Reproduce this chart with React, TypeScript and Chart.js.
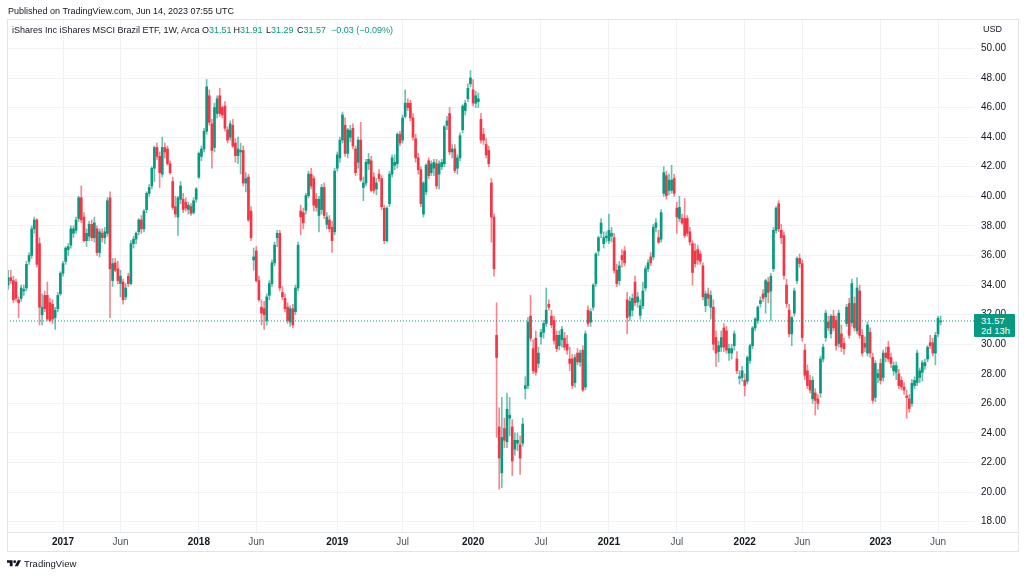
import React, { useEffect, useRef } from "react";
import { Chart, registerables } from "chart.js";

Chart.register(...registerables);

// Weekly candles [open, high, low, close]; week 0 = week of 2 Jan 2017
const FIRST_WEEK = -21;

const ohlc2016 = [
  [34.0, 35.0, 33.7, 34.5], [34.5, 35.0, 34.1, 34.3], [34.3, 34.6, 32.8, 33.0], [34.2, 34.4, 32.9, 33.1],
  [33.0, 33.2, 31.8, 32.8], [33.1, 34.0, 32.9, 33.8], [33.6, 34.0, 33.3, 33.7], [33.8, 35.6, 33.6, 35.4],
  [35.6, 36.2, 35.4, 36.0], [36.0, 38.0, 35.8, 37.8], [37.8, 38.6, 37.5, 38.4], [38.4, 38.5, 35.2, 35.4],
  [36.8, 37.2, 31.3, 32.5], [32.0, 33.4, 31.3, 32.5], [33.3, 33.6, 32.2, 32.4], [33.3, 34.2, 31.6, 31.7],
  [32.8, 33.1, 31.5, 31.6], [32.7, 33.0, 31.4, 31.7], [31.8, 32.5, 31.0, 32.3], [32.4, 33.5, 32.2, 33.3],
  [33.4, 34.9, 33.3, 34.8],
];

const ohlc2017 = [
  [34.8, 35.6, 34.6, 35.45], [35.6, 36.6, 35.4, 36.5], [36.4, 36.8, 36.0, 36.6], [36.7, 38.0, 36.5, 37.8],
  [37.5, 38.0, 37.2, 37.8], [37.7, 38.6, 37.5, 38.4], [38.5, 40.0, 38.3, 39.9], [39.9, 40.7, 38.2, 38.4],
  [38.6, 38.9, 36.9, 37.0], [37.0, 37.8, 36.6, 37.5], [37.3, 38.3, 37.0, 38.1], [38.1, 38.4, 37.0, 37.2],
  [37.2, 38.6, 36.9, 38.2], [37.8, 38.0, 36.0, 36.2], [36.2, 37.8, 35.9, 37.6], [37.5, 37.8, 36.9, 37.2],
  [37.2, 37.9, 36.8, 37.6], [37.5, 39.9, 37.3, 39.7], [39.9, 40.3, 31.8, 35.1], [34.3, 35.8, 33.9, 35.45],
  [35.5, 35.8, 34.9, 35.0], [35.1, 35.6, 34.1, 34.3], [34.1, 35.0, 33.2, 34.6], [34.2, 34.4, 32.7, 33.0],
  [33.2, 34.1, 33.0, 33.8], [34.6, 34.8, 33.9, 34.1], [34.1, 37.0, 34.0, 36.8], [36.8, 37.3, 36.5, 37.1],
  [37.1, 37.6, 36.8, 37.5], [37.6, 38.5, 37.4, 38.4], [38.4, 38.7, 37.5, 37.8], [37.8, 39.1, 37.6, 39.0],
  [39.1, 40.3, 38.9, 40.2], [40.2, 40.8, 40.0, 40.6], [40.7, 42.0, 40.5, 41.9], [41.9, 43.4, 41.0, 43.3],
  [43.3, 43.6, 42.5, 42.7], [42.7, 43.0, 40.6, 41.6], [41.5, 44.0, 41.3, 43.3], [43.3, 43.6, 42.6, 43.0],
  [43.2, 43.4, 42.1, 42.2], [42.2, 42.4, 41.5, 41.6], [41.0, 41.3, 39.1, 39.25], [39.3, 40.0, 38.6, 38.8],
  [38.6, 40.0, 37.35, 39.9], [39.8, 41.0, 39.5, 40.7], [39.8, 40.2, 38.9, 39.1], [39.6, 39.9, 39.0, 39.2],
  [39.1, 39.6, 38.8, 39.4], [39.3, 39.5, 38.7, 38.85], [38.9, 39.9, 38.8, 39.7], [39.8, 40.6, 39.6, 40.5],
];

const ohlc2018 = [
  [41.3, 43.0, 41.2, 42.9], [42.7, 43.4, 42.4, 43.2], [43.2, 44.6, 43.0, 44.4], [44.4, 47.9, 44.2, 47.4],
  [46.8, 47.2, 44.8, 45.0], [44.9, 45.2, 41.9, 43.1], [43.3, 46.3, 43.0, 46.0], [45.6, 46.8, 45.3, 46.6],
  [46.8, 47.3, 45.4, 45.6], [46.0, 46.1, 45.3, 45.5], [46.1, 46.4, 44.4, 44.6], [44.5, 44.7, 43.6, 43.8],
  [44.0, 45.1, 43.8, 44.9], [44.8, 45.2, 43.3, 43.4], [43.6, 43.9, 42.3, 42.75], [42.75, 44.0, 42.2, 43.2],
  [43.0, 43.6, 41.5, 43.1], [43.1, 43.4, 40.7, 40.9], [40.9, 41.6, 40.3, 41.2], [41.3, 41.5, 38.3, 38.4],
  [39.0, 39.3, 37.0, 37.2], [35.7, 36.5, 35.0, 35.9], [36.3, 36.6, 34.2, 34.3], [34.3, 34.6, 32.9, 33.0],
  [32.5, 33.0, 31.3, 32.1], [32.4, 32.9, 31.0, 32.0], [31.6, 33.4, 31.3, 33.2], [33.3, 34.3, 33.0, 34.1],
  [34.1, 35.7, 33.9, 35.5], [35.5, 36.9, 35.3, 36.7], [37.2, 37.7, 36.6, 37.5], [37.5, 37.7, 33.6, 33.8],
  [33.5, 33.9, 33.0, 33.2], [33.1, 33.4, 32.2, 32.4], [32.5, 32.8, 31.4, 31.6], [31.5, 32.6, 31.2, 32.4],
  [32.4, 32.7, 31.1, 31.3], [32.2, 34.0, 32.0, 33.8], [33.8, 36.9, 33.6, 36.7], [39.0, 39.4, 37.4, 38.6],
  [38.9, 39.2, 37.8, 38.2], [39.05, 40.2, 38.8, 40.05], [40.05, 41.7, 39.9, 41.5], [41.5, 41.9, 40.5, 40.7],
  [41.2, 41.4, 39.0, 39.4], [39.8, 40.2, 39.0, 39.25], [38.7, 40.0, 37.6, 39.8], [39.1, 40.8, 38.8, 40.6],
  [40.6, 40.9, 38.5, 38.7], [38.1, 38.9, 37.8, 38.6], [38.4, 38.7, 37.6, 37.8], [37.9, 38.3, 36.2, 37.0],
  [37.6, 41.9, 37.4, 41.7],
];

const ohlc2019 = [
  [41.9, 43.0, 41.7, 42.8], [42.6, 44.0, 42.3, 43.8], [43.8, 45.7, 43.6, 45.5], [44.8, 45.3, 42.7, 42.9],
  [42.9, 44.6, 42.6, 44.5], [44.0, 44.8, 43.7, 44.45], [44.6, 44.9, 43.2, 43.4], [43.2, 43.4, 41.4, 41.6],
  [42.3, 44.0, 41.9, 43.8], [43.8, 45.0, 41.0, 41.1], [40.6, 41.3, 39.7, 40.9], [40.9, 42.5, 40.7, 42.3],
  [42.2, 42.9, 41.8, 42.5], [42.4, 42.7, 40.3, 40.4], [41.3, 41.6, 40.2, 40.4], [40.5, 41.2, 40.1, 40.9],
  [41.5, 41.8, 41.0, 41.2], [41.2, 41.4, 39.1, 39.3], [39.2, 39.4, 36.8, 37.0], [37.0, 39.3, 36.9, 39.2],
  [39.5, 41.7, 39.3, 41.5], [41.5, 42.8, 41.3, 42.6], [42.1, 42.8, 41.8, 42.3], [42.2, 44.3, 41.9, 44.2],
  [44.2, 44.4, 43.4, 43.6], [43.8, 45.5, 43.6, 45.3], [45.4, 47.2, 45.3, 46.3], [46.3, 46.6, 45.8, 46.0],
  [46.3, 46.5, 45.1, 45.3], [45.3, 45.6, 43.8, 44.0], [43.9, 44.2, 42.3, 42.6], [42.6, 42.9, 41.5, 41.8],
  [41.8, 42.0, 39.3, 39.5], [38.8, 41.0, 38.6, 40.9], [40.3, 42.2, 40.1, 42.1], [42.4, 42.6, 41.2, 41.4],
  [41.6, 42.4, 41.4, 42.2], [41.9, 42.5, 41.4, 42.3], [42.2, 42.5, 40.5, 40.7], [41.5, 42.4, 40.5, 42.2],
  [42.0, 42.5, 41.8, 42.3], [42.2, 44.8, 42.0, 44.7], [44.8, 45.4, 44.5, 45.1], [45.6, 46.0, 42.8, 43.0],
  [43.0, 43.5, 42.6, 43.2], [43.2, 43.5, 41.6, 41.75], [41.9, 42.8, 41.5, 42.6], [42.6, 44.3, 42.4, 44.1],
  [44.5, 46.2, 44.3, 46.1], [45.8, 46.5, 45.5, 46.3], [46.6, 47.6, 46.4, 47.3], [47.6, 48.5, 47.4, 48.0],
];

const ohlc2020 = [
  [47.2, 47.9, 46.1, 46.3], [46.3, 47.1, 46.0, 46.8], [46.4, 47.0, 46.0, 46.6], [45.2, 45.6, 43.6, 43.8],
  [44.2, 44.6, 43.5, 43.8], [43.5, 43.9, 42.6, 42.8], [43.1, 43.4, 42.0, 42.2], [40.9, 41.2, 36.9, 38.6],
  [38.6, 38.8, 34.6, 35.1], [30.6, 32.8, 23.7, 29.1], [24.4, 25.7, 20.2, 22.3], [21.3, 26.4, 20.3, 23.7],
  [24.3, 25.0, 23.0, 23.5], [23.4, 26.7, 23.0, 25.6], [25.0, 26.4, 23.8, 25.2], [24.4, 24.9, 21.1, 22.1],
  [22.9, 24.0, 22.5, 23.5], [23.3, 24.0, 22.8, 23.5], [23.2, 23.8, 21.2, 22.3], [23.3, 25.0, 23.1, 24.6],
  [27.0, 27.8, 26.3, 27.2], [27.2, 31.8, 27.0, 31.5], [31.9, 33.3, 30.2, 30.4], [29.7, 30.3, 28.0, 28.2],
  [30.4, 30.9, 27.9, 28.1], [28.7, 29.8, 28.4, 29.4], [30.5, 31.0, 30.0, 30.8], [30.8, 31.6, 30.4, 31.4],
  [31.4, 33.8, 31.2, 32.3], [32.7, 33.0, 32.3, 32.5], [31.9, 32.3, 31.1, 31.3], [31.6, 31.9, 30.0, 30.25],
  [30.6, 30.9, 29.5, 29.7], [29.9, 30.9, 29.6, 30.6], [30.3, 31.2, 29.8, 31.0], [30.4, 30.8, 29.6, 29.8],
  [30.0, 30.6, 29.3, 29.6], [29.0, 29.8, 28.2, 28.7], [29.0, 29.3, 27.0, 27.2], [27.4, 29.3, 27.1, 29.1],
  [29.4, 29.7, 28.6, 28.8], [28.8, 29.6, 28.5, 29.4], [29.6, 29.9, 26.8, 26.9], [27.1, 30.9, 26.9, 30.7],
  [32.3, 32.6, 31.2, 31.4], [31.5, 32.4, 31.2, 32.2], [32.5, 34.1, 32.3, 34.0], [34.1, 36.2, 33.9, 36.1],
  [36.3, 37.3, 36.0, 37.2], [37.5, 38.5, 37.2, 38.2], [36.8, 37.6, 36.5, 37.2], [37.2, 37.6, 36.9, 37.3],
];

const ohlc2021 = [
  [37.0, 38.8, 36.8, 37.7], [37.3, 37.9, 36.9, 37.5], [37.2, 37.5, 34.8, 35.0], [35.0, 35.4, 33.9, 34.1],
  [34.3, 35.6, 34.0, 35.3], [36.0, 36.4, 35.2, 35.7], [36.3, 36.6, 35.3, 35.5], [33.0, 33.5, 30.7, 31.8],
  [31.9, 33.2, 31.6, 32.9], [32.3, 33.4, 31.9, 33.1], [34.2, 34.6, 32.6, 32.8], [32.85, 33.5, 32.5, 33.2],
  [31.95, 33.0, 31.7, 32.6], [32.6, 34.2, 32.4, 33.6], [33.8, 35.3, 33.6, 35.1], [35.1, 35.7, 34.9, 35.5],
  [35.9, 36.2, 35.3, 35.5], [35.9, 38.1, 35.7, 37.9], [37.9, 38.5, 37.6, 38.2], [37.2, 37.7, 36.8, 36.9],
  [37.1, 39.1, 36.9, 38.9], [40.2, 42.0, 40.0, 41.6], [41.4, 41.7, 39.8, 40.05], [40.4, 41.5, 40.1, 41.1],
  [40.4, 42.1, 40.2, 41.1], [41.2, 41.5, 40.0, 40.2], [39.2, 39.6, 37.5, 38.6], [38.5, 40.0, 38.3, 39.25],
  [38.5, 38.8, 38.1, 38.2], [38.5, 39.85, 37.2, 37.35], [38.5, 38.7, 37.3, 37.5], [37.6, 37.9, 36.7, 36.9],
  [36.8, 37.0, 34.0, 34.85], [36.3, 36.8, 35.2, 35.45], [36.4, 36.7, 35.4, 35.7], [36.1, 36.3, 35.4, 35.6],
  [35.3, 35.5, 33.0, 33.2], [32.6, 33.6, 32.2, 33.4], [33.4, 33.8, 32.6, 33.1], [32.5, 33.6, 31.7, 33.3],
  [32.5, 33.0, 29.6, 30.0], [30.45, 30.9, 28.5, 29.4], [29.5, 30.2, 28.8, 29.9], [29.8, 30.9, 29.5, 30.45],
  [31.1, 31.4, 29.5, 29.8], [30.9, 31.2, 29.4, 29.6], [29.4, 30.0, 28.9, 29.7], [29.4, 30.0, 29.0, 29.7],
  [29.9, 30.9, 29.6, 30.7], [29.0, 29.5, 28.0, 28.2], [27.7, 28.2, 27.3, 27.8], [27.75, 28.5, 27.5, 28.2],
];

const ohlc2022 = [
  [27.55, 28.0, 26.5, 27.2], [27.5, 29.2, 27.3, 29.1], [28.9, 30.0, 28.7, 29.9], [29.9, 31.2, 29.7, 31.1],
  [31.1, 31.8, 30.9, 31.7], [31.6, 32.6, 31.4, 32.5], [32.75, 33.2, 32.5, 32.95], [33.4, 33.7, 32.9, 33.1],
  [33.2, 34.4, 32.1, 34.3], [34.2, 34.5, 32.8, 33.5], [33.6, 34.8, 31.6, 34.6], [35.1, 37.9, 34.9, 37.7],
  [37.7, 39.3, 37.5, 39.2], [39.5, 39.7, 37.6, 37.8], [37.7, 38.1, 36.8, 37.2], [37.35, 37.6, 34.4, 34.65],
  [34.0, 34.4, 32.5, 32.75], [32.3, 32.7, 30.5, 30.7], [30.7, 31.9, 29.9, 31.8], [32.1, 33.8, 31.9, 33.6],
  [34.3, 35.9, 34.1, 35.8], [35.8, 36.1, 35.2, 35.45], [35.45, 35.7, 30.2, 30.45], [29.6, 30.0, 27.6, 27.9],
  [28.2, 28.6, 27.0, 27.2], [27.55, 27.9, 26.7, 26.9], [26.3, 27.8, 26.0, 27.55], [26.7, 27.0, 25.2, 26.2],
  [26.3, 26.6, 25.6, 26.0], [26.7, 29.2, 26.4, 29.0], [29.0, 30.0, 28.8, 29.8], [30.45, 32.3, 30.2, 32.1],
  [31.5, 31.9, 30.9, 31.1], [30.7, 32.0, 30.4, 31.9], [31.9, 32.3, 30.9, 31.1], [31.6, 31.9, 29.6, 29.9],
  [30.05, 32.3, 29.8, 32.1], [30.7, 31.3, 29.5, 29.8], [30.05, 30.4, 29.3, 29.7], [31.4, 32.7, 31.2, 32.5],
  [32.75, 33.1, 30.4, 30.6], [31.45, 34.4, 31.2, 34.1], [32.75, 33.2, 30.9, 31.1], [30.9, 34.5, 30.7, 33.8],
  [33.6, 34.0, 30.4, 30.6], [30.6, 31.0, 29.2, 29.4], [30.05, 30.5, 29.5, 29.8], [29.4, 31.5, 29.2, 31.3],
  [30.8, 31.1, 29.1, 29.4], [29.1, 29.4, 26.0, 26.2], [26.4, 28.9, 26.1, 28.7], [27.75, 28.3, 27.4, 28.0],
];

const ohlc2023 = [
  [28.7, 29.0, 27.3, 27.55], [27.75, 29.6, 27.5, 29.4], [29.4, 29.8, 28.8, 29.1], [29.8, 30.2, 28.8, 29.0],
  [29.1, 29.4, 28.4, 28.7], [28.2, 28.8, 27.9, 28.55], [28.1, 28.8, 27.6, 28.55], [28.0, 28.3, 27.0, 27.2],
  [27.55, 27.8, 26.9, 27.1], [27.1, 27.4, 26.6, 26.9], [26.5, 26.9, 25.0, 26.4], [26.3, 26.6, 25.4, 25.65],
  [26.0, 27.6, 25.8, 27.35], [27.2, 27.8, 27.0, 27.55], [27.4, 29.6, 27.2, 29.4], [27.75, 28.4, 27.4, 28.2],
  [28.1, 28.9, 27.5, 28.75], [28.55, 29.0, 28.3, 28.75], [29.0, 29.9, 28.8, 29.8], [30.1, 30.6, 29.7, 29.9],
  [30.1, 30.4, 29.2, 29.4], [29.4, 30.8, 28.6, 30.6], [30.7, 31.9, 30.5, 31.75], [31.51, 31.91, 31.29, 31.57],
];

const yearTickWeeks = [0, 52, 105, 157, 209, 261, 313];
const yearTickLabels = ["2017", "2018", "2019", "2020", "2021", "2022", "2023"];
const monthTickWeeks = [22, 74, 130, 183, 235, 283, 335];
const monthTickLabels = ["Jun", "Jun", "Jul", "Jul", "Jul", "Jun", "Jun"];
const priceTicks = [18, 20, 22, 24, 26, 28, 30, 32, 34, 36, 38, 40, 42, 44, 46, 48, 50];

const lastOpen = 31.51;
const lastHigh = 31.91;
const lastLow = 31.29;
const lastClose = 31.57;
const lastChange = "−0.03 (−0.09%)";

const UP = "#089981";
const DOWN = "#f23645";
const UP_WICK = "rgba(8,153,129,0.6)";
const DOWN_WICK = "rgba(242,54,69,0.6)";
const FONT = '"Liberation Sans", Arial, Helvetica, sans-serif';
const TEXT = "#131722";
const MUTED = "#50535e";

const X_MIN = -21.44;
const X_MAX = 349.16;
const Y_MIN = 17.3;
const Y_MAX = 51.99;

const candles = [
  ...ohlc2016, ...ohlc2017, ...ohlc2018, ...ohlc2019,
  ...ohlc2020, ...ohlc2021, ...ohlc2022, ...ohlc2023,
];

export default function App() {
  const ref = useRef<HTMLCanvasElement | null>(null);

  useEffect(() => {
    const labelMap: Record<number, string> = {};
    yearTickWeeks.forEach((w, i) => (labelMap[w] = yearTickLabels[i]));
    monthTickWeeks.forEach((w, i) => (labelMap[w] = monthTickLabels[i]));
    const yearSet = new Set(yearTickWeeks);
    const allTicks = [...yearTickWeeks, ...monthTickWeeks].sort((a, b) => a - b);

    const isUp = candles.map((c) => c[3] >= c[0]);
    const bodyColors = isUp.map((u) => (u ? UP : DOWN));
    const wickColors = isUp.map((u) => (u ? UP_WICK : DOWN_WICK));
    const wickData = candles.map((c, i) => ({ x: FIRST_WEEK + i, y: [c[2], c[1]] }));
    const bodyData = candles.map((c, i) => ({ x: FIRST_WEEK + i, y: [c[0], c[3]] }));

    const chart = new Chart(ref.current as HTMLCanvasElement, {
      type: "bar",
      data: {
        datasets: [
          {
            type: "line",
            data: [
              { x: X_MIN, y: lastClose },
              { x: X_MAX, y: lastClose },
            ],
            borderColor: UP,
            borderWidth: 1,
            borderDash: [1, 2],
            pointRadius: 0,
            order: 0,
          } as any,
          {
            type: "bar",
            data: bodyData as any,
            backgroundColor: bodyColors,
            barThickness: 2,
            minBarLength: 1,
            grouped: false,
            order: 1,
          } as any,
          {
            type: "bar",
            data: wickData as any,
            backgroundColor: wickColors,
            barThickness: 1,
            grouped: false,
            order: 2,
          } as any,
        ],
      },
      options: {
        responsive: false,
        animation: false,
        devicePixelRatio: 1,
        layout: { padding: { left: 7, top: 19, right: 6, bottom: 26 } },
        plugins: { legend: { display: false }, tooltip: { enabled: false } },
        scales: {
          x: {
            type: "linear",
            min: X_MIN,
            max: X_MAX,
            offset: false,
            grid: { color: "#f0f2f6", drawTicks: false, offset: false },
            border: { display: false },
            afterBuildTicks: (scale: any) => {
              scale.ticks = allTicks.map((v) => ({ value: v }));
            },
            afterFit: (scale: any) => {
              scale.height = 19;
            },
            ticks: {
              autoSkip: false,
              maxRotation: 0,
              padding: 4,
              color: (ctx: any) => (ctx.tick && yearSet.has(ctx.tick.value) ? TEXT : MUTED),
              callback: (v: any) => labelMap[v] ?? "",
              font: (ctx: any) => ({
                family: FONT,
                size: 10,
                weight: ctx.tick && yearSet.has(ctx.tick.value) ? "bold" : "normal",
              }),
            },
          },
          y: {
            type: "linear",
            position: "right",
            min: Y_MIN,
            max: Y_MAX,
            beginAtZero: false,
            grid: { color: "#f0f2f6", drawTicks: false },
            border: { display: false },
            afterBuildTicks: (scale: any) => {
              scale.ticks = priceTicks.map((v) => ({ value: v }));
            },
            afterFit: (scale: any) => {
              scale.width = 43;
            },
            ticks: {
              padding: 6,
              color: TEXT,
              font: { family: FONT, size: 10 },
              callback: (v: any) => Number(v).toFixed(2),
            },
          },
        },
      } as any,
    });
    return () => chart.destroy();
  }, []);

  const green = { color: UP };
  const seg = (left: number, content: React.ReactNode) => (
    <div style={{ position: "absolute", left, top: 24, lineHeight: "13px", fontSize: 9, whiteSpace: "nowrap" }}>
      {content}
    </div>
  );

  return (
    <div
      style={{
        position: "fixed",
        left: 0,
        top: 0,
        width: 1024,
        height: 577,
        background: "#ffffff",
        overflow: "hidden",
        fontFamily: FONT,
        color: TEXT,
      }}
    >
      <canvas ref={ref} width={1024} height={577} style={{ position: "absolute", left: 0, top: 0, width: 1024, height: 577 }} />
      {/* frame */}
      <div style={{ position: "absolute", left: 7, top: 19, width: 1010, height: 531, border: "1px solid #e0e3eb", boxSizing: "content-box", pointerEvents: "none" }} />
      <div style={{ position: "absolute", left: 7, top: 532, width: 1011, height: 1, background: "#e0e3eb" }} />

      <div style={{ position: "absolute", left: 8, top: 5, lineHeight: "13px", fontSize: 9, whiteSpace: "nowrap" }}>
        Published on TradingView.com, Jun 14, 2023 07:55 UTC
      </div>

      {seg(12, "iShares Inc iShares MSCI Brazil ETF, 1W, Arca")}
      {seg(202, <>O<span style={green}>{lastOpen.toFixed(2)}</span></>)}
      {seg(233.5, <>H<span style={green}>{lastHigh.toFixed(2)}</span></>)}
      {seg(266, <>L<span style={green}>{lastLow.toFixed(2)}</span></>)}
      {seg(297, <>C<span style={green}>{lastClose.toFixed(2)}</span></>)}
      {seg(331, <span style={green}>{lastChange}</span>)}

      <div style={{ position: "absolute", left: 983, top: 23, lineHeight: "12px", fontSize: 9, whiteSpace: "nowrap" }}>USD</div>

      <div
        style={{
          position: "absolute",
          left: 974,
          top: 314,
          width: 41,
          height: 23,
          background: UP,
          borderRadius: 1,
          color: "#ffffff",
          fontSize: 9.5,
          lineHeight: "10px",
          paddingLeft: 7,
          paddingTop: 2,
          boxSizing: "border-box",
          whiteSpace: "nowrap",
        }}
      >
        <div>{lastClose.toFixed(2)}</div>
        <div>2d 13h</div>
      </div>

      <div style={{ position: "absolute", left: 7, top: 558, display: "flex", alignItems: "center", gap: 3 }}>
        <svg width="14" height="7" viewBox="0 0 40 20">
          <path d="M16 18H8V8H0V1h16v17z" fill={TEXT} />
          <circle cx="22" cy="5" r="4" fill={TEXT} />
          <path d="M31 18h-9L31 1h9l-9 17z" fill={TEXT} />
        </svg>
        <span style={{ fontSize: 9.5, lineHeight: "11px", whiteSpace: "nowrap" }}>TradingView</span>
      </div>
    </div>
  );
}
